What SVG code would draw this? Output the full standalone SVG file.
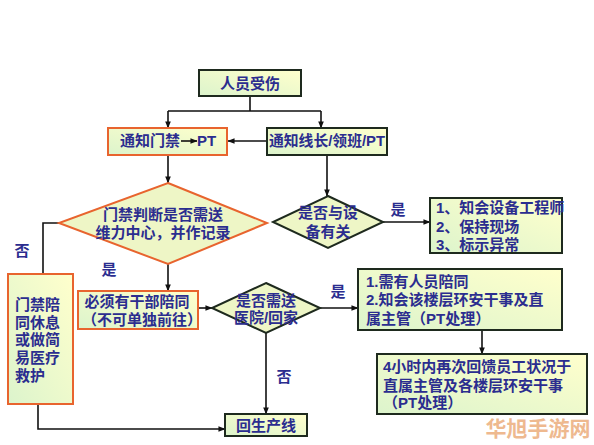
<svg xmlns="http://www.w3.org/2000/svg" width="594" height="445" viewBox="0 0 594 445">
<defs>
<linearGradient id="g" x1="0" y1="1" x2="1" y2="0">
<stop offset="0" stop-color="#DCF4CC"/>
<stop offset="1" stop-color="#FFFFCC"/>
</linearGradient>
<marker id="a" viewBox="0 0 8 8" refX="7.5" refY="4" markerWidth="7" markerHeight="7" orient="auto" markerUnits="userSpaceOnUse">
<path d="M0,0.8 L8,4 L0,7.2 Z" fill="#111"/>
</marker>
<style>
.bx{fill:url(#g);stroke:#1E2A1E;stroke-width:2}
.or{fill:url(#g);stroke:#E8642E;stroke-width:2}
.dm{fill:#EEF6C6;stroke:#1E2A1E;stroke-width:2}
.dmo{fill:#EEF6C6;stroke:#E8642E;stroke-width:2}
.ln{fill:none;stroke:#111;stroke-width:1.6}
.ar{fill:none;stroke:#111;stroke-width:1.6;marker-end:url(#a)}
text{font-family:"Liberation Serif","Noto Sans CJK SC",sans-serif;font-size:15px;fill:#2B2D8F;font-weight:bold}
.c{text-anchor:middle}
.b{font-family:"Liberation Sans",sans-serif;font-weight:bold}
.wm{font-family:"Noto Sans CJK SC",sans-serif;font-size:21px;font-weight:bold;fill:#E9A26A;opacity:0.75}
</style>
</defs>
<g id="connectors">
<path class="ln" d="M250,96 V111 M168,111 H321"/>
<path class="ar" d="M168,111 V128"/>
<path class="ar" d="M321,111 V128"/>
<path class="ar" d="M267,141 H228"/>
<path class="ar" d="M168,155 V183"/>
<path class="ar" d="M327,155 V196"/>
<path class="ar" d="M383,222 H430"/>
<path class="ln" d="M59,223 H43 V274"/>
<path class="ar" d="M168,264 V291"/>
<path class="ar" d="M198,308 H212"/>
<path class="ar" d="M320,308 H358"/>
<path class="ar" d="M482,318 V354"/>
<path class="ar" d="M266,333 V414"/>
<path class="ar" d="M38,404 V429 H225"/>
</g>
<g id="labels">
<text class="c" x="398" y="215">是</text>
<text class="c" x="22" y="256">否</text>
<text class="c" x="109" y="275">是</text>
<text class="c" x="338" y="297">是</text>
<text class="c" x="284" y="382">否</text>
</g>
<g id="n1">
<rect class="bx" x="199" y="70" width="102" height="26"/>
<text class="c" x="250" y="88.5">人员受伤</text>
</g>
<g id="n2">
<rect class="or" x="108" y="128" width="119" height="27"/>
<text x="120" y="146">通知门禁</text>
<path class="ar" d="M181,141 H197"/>
<text class="b" x="197" y="146">PT</text>
</g>
<g id="n3">
<rect class="bx" x="267" y="128" width="120" height="27"/>
<text x="269" y="146" textLength="116" lengthAdjust="spacingAndGlyphs">通知线长<tspan class="b">/</tspan>领班<tspan class="b">/PT</tspan></text>
</g>
<g id="n4">
<polygon class="dmo" points="168,183 267,223 168,264 59,223"/>
<text class="c" x="163" y="220">门禁判断是否需送</text>
<text class="c" x="163" y="238">维力中心，并作记录</text>
</g>
<g id="n5">
<polygon class="dm" points="328,196 383,222 328,248 273,222"/>
<text class="c" x="328" y="218">是否与设</text>
<text class="c" x="328" y="237">备有关</text>
</g>
<g id="n6">
<rect class="bx" x="430" y="198" width="132" height="55"/>
<text x="436" y="213"><tspan class="b">1</tspan>、知会设备工程师</text>
<text x="436" y="232"><tspan class="b">2</tspan>、保持现场</text>
<text x="436" y="250"><tspan class="b">3</tspan>、标示异常</text>
</g>
<g id="n7">
<rect class="or" x="8" y="274" width="65" height="130"/>
<text x="15" y="310">门禁陪</text>
<text x="15" y="327.5">同休息</text>
<text x="15" y="345">或做简</text>
<text x="15" y="363">易医疗</text>
<text x="15" y="380.5">救护</text>
</g>
<g id="n8">
<rect class="or" x="78" y="291" width="120" height="38"/>
<text class="c" x="137" y="307">必须有干部陪同</text>
<text class="c" x="142" y="325">（不可单独前往）</text>
</g>
<g id="n9">
<polygon class="dm" points="266,283 320,308 266,333 212,308"/>
<text class="c" x="266" y="306">是否需送</text>
<text class="c" x="266" y="323">医院<tspan class="b">/</tspan>回家</text>
</g>
<g id="n10">
<rect class="bx" x="358" y="269" width="204" height="61"/>
<text x="366" y="287"><tspan class="b">1.</tspan>需有人员陪同</text>
<text x="366" y="305"><tspan class="b">2.</tspan>知会该楼层环安干事及直</text>
<text x="366" y="324">属主管（<tspan class="b">PT</tspan>处理）</text>
</g>
<g id="n11">
<rect class="bx" x="377" y="354" width="210" height="60"/>
<text x="383" y="372"><tspan class="b">4</tspan>小时内再次回馈员工状况于</text>
<text x="383" y="391">直属主管及各楼层环安干事</text>
<text x="383" y="408">（<tspan class="b">PT</tspan>处理）</text>
</g>
<g id="n12">
<rect class="bx" x="225" y="414" width="82" height="22"/>
<text class="c" x="266" y="430.5">回生产线</text>
</g>
<text class="wm" x="538" y="436" text-anchor="middle">华旭手游网</text>
</svg>
